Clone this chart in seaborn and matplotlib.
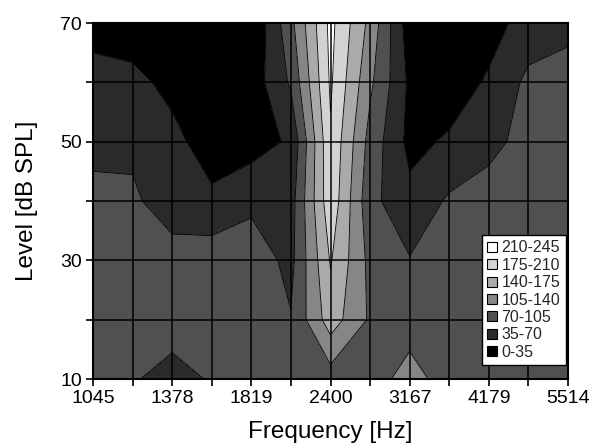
import numpy as np
import matplotlib
matplotlib.use("Agg")
import matplotlib.pyplot as plt
from matplotlib.patches import Patch
import seaborn as sns

# ---------------- data ----------------
freqs = [1045, 1200, 1378, 1583, 1819, 2089, 2400, 2757, 3167, 3638, 4179, 4800, 5514]
freq_labels = ["1045", "", "1378", "", "1819", "", "2400", "", "3167", "", "4179", "", "5514"]
levels_db = [10, 20, 30, 40, 50, 60, 70]
level_labels = ["10", "", "30", "", "50", "", "70"]

# spike counts, one row per level (10 dB ... 70 dB), one column per frequency
r10 = [85, 73, 58, 73, 85, 85, 88, 90, 118, 90, 90, 90, 90]
r20 = [85, 85, 85, 85, 88, 72, 158, 100, 90, 88, 88, 88, 88]
r30 = [85, 72, 90, 90, 90, 60, 178, 95, 72, 88, 90, 90, 90]
r40 = [85, 78, 45, 42, 62, 55, 200, 80, 45, 75, 85, 90, 90]
r50 = [55, 60, 45, 18, 20, 40, 205, 92, 25, 40, 60, 82, 80]
r60 = [50, 45, 25, 10, 15, 75, 215, 112, 28, 15, 40, 78, 85]
r70 = [20, 15, 10, 10, 0, 95, 220, 130, 15, 10, 20, 50, 60]

bounds = [0, 35, 70, 105, 140, 175, 210, 245]
band_labels = ["0-35", "35-70", "70-105", "105-140", "140-175", "175-210", "210-245"]
greys = ["#000000", "#2a2a2a", "#505050", "#868686", "#aaaaaa", "#d2d2d2", "#ffffff"]

Z = np.array([r10, r20, r30, r40, r50, r60, r70], dtype=float)

# ---------------- plot ----------------
sns.set_theme(style="ticks")
plt.rcParams["font.family"] = ["Liberation Sans", "DejaVu Sans"]

fig = plt.figure(figsize=(5.9, 4.48), dpi=100)
ax = fig.add_axes([93 / 590, 1 - 379 / 448, 475 / 590, 356 / 448])

x = np.arange(len(freqs))
ax.contourf(x, levels_db, Z, levels=bounds, colors=greys, zorder=1)
ax.contour(x, levels_db, Z, levels=bounds[1:-1], colors="black", linewidths=0.6, zorder=2)

ax.set_xlim(0, len(freqs) - 1)
ax.set_ylim(levels_db[0], levels_db[-1])
ax.set_xticks(x)
ax.set_xticklabels(freq_labels)
ax.set_yticks(levels_db)
ax.set_yticklabels(level_labels)

ax.set_axisbelow(False)
ax.grid(True, color="black", linewidth=1.1, zorder=3)
for gl in ax.get_xgridlines() + ax.get_ygridlines():
    gl.set_zorder(3)

ax.tick_params(direction="out", length=5, width=1.2, colors="black",
               labelsize=14, pad=3)
for s in ax.spines.values():
    s.set_color("black")
    s.set_linewidth(1.5)
    s.set_zorder(4)

ax.set_xlabel("Frequency [Hz]", fontsize=17.5, color="black", labelpad=10)
ax.set_ylabel("Level [dB SPL]", fontsize=17.5, color="black", labelpad=16)

handles = [Patch(facecolor=greys[i], edgecolor="black", linewidth=0.8, label=band_labels[i])
           for i in range(len(band_labels) - 1, -1, -1)]
leg = ax.legend(handles=handles, loc="upper left", bbox_to_anchor=(0.818, 0.405),
                fontsize=11.5, frameon=True, fancybox=False, framealpha=1,
                handlelength=0.6, handleheight=0.6, handletextpad=0.3,
                labelspacing=0.15, borderpad=0.35, borderaxespad=0)
leg.get_frame().set_edgecolor("black")
leg.get_frame().set_linewidth(1.0)
leg.set_zorder(5)

fig.savefig("out.png", dpi=100)
